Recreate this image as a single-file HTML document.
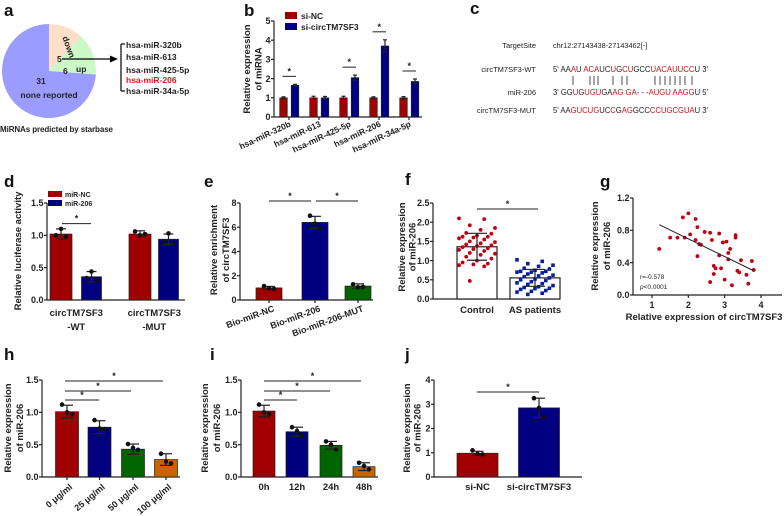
<!DOCTYPE html>
<html><head><meta charset="utf-8">
<style>
html,body{margin:0;padding:0;background:#fff;}
svg{display:block;font-family:"Liberation Sans",Arial,sans-serif;font-weight:bold;}
</style></head>
<body>
<svg id="fig" width="784" height="516" viewBox="0 0 784 516" xmlns="http://www.w3.org/2000/svg"></svg>
<script>
// ---------- data ----------
const pieLabels=['down','up','none reported'];
const pieCounts=[5,6,31];
const bCats=['hsa-miR-320b','hsa-miR-613','hsa-miR-425-5p','hsa-miR-206','hsa-miR-34a-5p'];
const bNC=[1,1,1,1,1];
const bSi=[1.65,1.0,2.05,3.7,1.85];
const bNCerr=[0.05,0.08,0.08,0.05,0.06];
const bSiErr=[0.05,0.07,0.13,0.32,0.13];
const bTicks=[0,1,2,3,4,5];
const dCats=['circTM7SF3\n-WT','circTM7SF3\n-MUT'];
const dNC=[1.02,1.02];
const dMiR=[0.36,0.94];
const dNCerr=[0.08,0.05];
const dMiRerr=[0.08,0.08];
const dNCpts=[[1.0,1.1,0.98],[1.06,1.0,1.02]];
const dMiRpts=[[0.34,0.44,0.3],[0.9,1.03,0.88]];
const dTicks=[0,0.5,1.0,1.5];
const eCats=['Bio-miR-NC','Bio-miR-206','Bio-miR-206-MUT'];
const eVals=[1.0,6.4,1.15];
const eErr=[0.12,0.5,0.18];
const ePts=[[1.15,0.95,0.92],[6.95,6.3,5.9],[1.3,1.05,1.08]];
const eTicks=[0,2,4,6,8];
const fCats=['Control','AS patients'];
const fMeans=[1.36,0.55];
const fSD=[0.35,0.22];
const fCtrl=[2.1,2.08,1.92,1.85,1.8,1.72,1.7,1.65,1.62,1.62,1.6,1.58,1.55,1.5,1.48,1.45,1.42,1.4,1.38,1.35,1.32,1.3,1.28,1.25,1.2,1.18,1.15,1.1,1.05,1.0,0.95,0.92,0.9,0.88,0.85,0.47];
const fAS=[1.02,0.98,0.92,0.88,0.85,0.8,0.78,0.75,0.72,0.72,0.7,0.7,0.68,0.65,0.62,0.6,0.58,0.55,0.52,0.5,0.48,0.45,0.42,0.4,0.38,0.35,0.32,0.3,0.28,0.27,0.25,0.22,0.2,0.18,0.15,0.12];
const fTicks=[0,0.5,1.0,1.5,2.0,2.5];
const gX=[1.2,1.5,1.7,1.85,1.9,2.0,2.05,2.2,2.2,2.25,2.3,2.35,2.25,2.45,2.6,2.65,2.7,2.75,2.85,2.85,2.9,2.95,3.0,3.05,3.1,3.15,3.2,3.3,3.3,3.35,3.4,3.45,3.6,3.65,3.75,3.8,2.6,2.7,3.1];
const gY=[0.57,0.71,0.71,0.96,0.71,1.01,0.75,0.68,0.94,0.84,0.63,0.62,0.48,0.78,0.77,0.68,0.36,0.33,0.49,0.76,0.33,0.65,0.19,0.66,0.44,0.57,0.12,0.74,0.71,0.3,0.28,0.43,0.25,0.14,0.42,0.31,0.16,0.26,0.52];
const gFit=[[1.2,0.87],[3.8,0.30]];
const gXTicks=[1,2,3,4];
const gYTicks=[0,0.4,0.8,1.2];
const hCats=['0 μg/ml','25 μg/ml','50 μg/ml','100 μg/ml'];
const hVals=[1.01,0.77,0.43,0.27];
const hErr=[0.1,0.1,0.08,0.09];
const hPts=[[1.12,1.0,0.97],[0.88,0.75,0.74],[0.51,0.45,0.42],[0.36,0.24,0.21]];
const iCats=['0h','12h','24h','48h'];
const iVals=[1.02,0.70,0.49,0.16];
const iErr=[0.09,0.07,0.06,0.06];
const iPts=[[1.12,1.0,0.97],[0.77,0.71,0.64],[0.55,0.5,0.43],[0.22,0.17,0.12]];
const jCats=['si-NC','si-circTM7SF3'];
const jVals=[0.98,2.85];
const jErr=[0.08,0.4];
const jPts=[[1.1,0.95,0.93],[3.25,2.85,2.45]];
const hiTicks=[0,0.5,1.0,1.5];
const jTicks=[0,1,2,3,4];

// ---------- helpers ----------
const NS='http://www.w3.org/2000/svg';
const svg=document.getElementById('fig');
const RED='#a00000',BLUE='#000080',GREEN='#006400',ORANGE='#c86400';
function mk(tag,attrs,name,parent){
  const el=document.createElementNS(NS,tag);
  for(const k in attrs) el.setAttribute(k,attrs[k]);
  
  
  (parent||svg).appendChild(el);
  return el;
}
function txt(x,y,s,name,opt){
  opt=opt||{};
  const t=mk('text',{x:x,y:y,'font-size':opt.size||8.5,'text-anchor':opt.anchor||'start',fill:opt.fill||'#222'},name);
  if(opt.rot!==undefined) t.setAttribute('transform','rotate('+opt.rot+' '+x+' '+y+')');
  if(opt.weight) t.setAttribute('font-weight',opt.weight);
  if(opt.len) t.setAttribute('textLength',opt.len);
  t.textContent=s;
  return t;
}
function line(x1,y1,x2,y2,name,w,c){return mk('line',{x1:x1,y1:y1,x2:x2,y2:y2,stroke:c||'#222','stroke-width':w||1.2},name);}
function linScale(d0,d1,r0,r1){return v=>r0+(v-d0)/(d1-d0)*(r1-r0);}
function yAxis(x,y0,yTop,ticks,name,fmt){
  const s=linScale(ticks[0],ticks[ticks.length-1],y0,yTop);
  line(x,y0,x,yTop,name+'-line');
  ticks.forEach(t=>{line(x-3,s(t),x,s(t),name+'-tick');txt(x-3.5,s(t)+3.2,fmt?fmt(t):String(t),name+'-label',{anchor:'end',size:9});});
  return s;
}
function errBar(cx,yv,ev,s,name,hw){
  line(cx,s(yv-ev),cx,s(yv+ev),name);
  line(cx-hw,s(yv+ev),cx+hw,s(yv+ev),name+'-cap');
  line(cx-hw,s(yv-ev),cx+hw,s(yv-ev),name+'-cap');
}
function dots(cx,pts,s,name){
  const off=[-5,0,5];
  pts.forEach((p,i)=>mk('circle',{cx:cx+off[i],cy:s(p),r:2.3,fill:'#111'},name));
}
function sig(x1,x2,y,name){line(x1,y,x2,y,name+'-line',1);txt((x1+x2)/2,y-2,'*',name+'-star',{anchor:'middle',size:9});}
function ytitle(x,y,lines,name,sp){
  lines.forEach((l,i)=>txt(x+i*(sp||11.5),y,l,name,{anchor:'middle',rot:-90,size:9.5}));
}
function panelLetter(x,y,s){txt(x,y,s,'panel-label-'+s,{size:17,fill:'#111'});}

// ---------- panel a : pie ----------
panelLetter(4,16,'a');
(function(){
  const cx=49,cy=71,r=47,total=pieCounts.reduce((a,b)=>a+b,0);
  const cols=['#fde0c8','#ccf8c8','#9a9cff'];
  let a0=-Math.PI/2;
  pieCounts.forEach((c,i)=>{
    const a1=a0+c/total*2*Math.PI;
    const large=(a1-a0)>Math.PI?1:0;
    const d='M'+cx+','+cy+' L'+(cx+r*Math.cos(a0))+','+(cy+r*Math.sin(a0))+' A'+r+','+r+' 0 '+large+' 1 '+(cx+r*Math.cos(a1))+','+(cy+r*Math.sin(a1))+' Z';
    mk('path',{d:d,fill:cols[i]},'pie-slice-'+pieLabels[i].replace(' ','-'));
    a0=a1;
  });
  txt(66,48,pieLabels[0],'pie-label-down',{rot:70,anchor:'middle',size:8.5});
  txt(57,62,String(pieCounts[0]),'pie-count-down',{size:8.5});
  txt(63,74,String(pieCounts[1]),'pie-count-up',{size:8.5});
  txt(76,72,pieLabels[1],'pie-label-up',{size:8.5});
  txt(41,84,String(pieCounts[2]),'pie-count-none',{anchor:'middle',size:8.5});
  txt(49,98,pieLabels[2],'pie-label-none',{anchor:'middle',size:8.5});
  txt(0,132,'MiRNAs predicted by starbase','pie-caption',{size:8,len:113});
  line(62,59,112,59,'arrow-line',1.3,'#000');
  mk('path',{d:'M118,59 L110,55.5 L110,62.5 Z',fill:'#000'},'arrow-head');
  line(121,44,121,91,'bracket',1.2,'#000');
  line(121,44,125,44,'bracket',1.2,'#000');
  line(121,91,125,91,'bracket',1.2,'#000');
  const lst=['hsa-miR-320b','hsa-miR-613','hsa-miR-425-5p','hsa-miR-206','hsa-miR-34a-5p'];
  const ly=[48,60,73,83,94];
  lst.forEach((s,i)=>txt(126,ly[i],s,'mirna-list-item',{size:8.5,fill:i==3?'#e8141c':'#222'}));
})();

// ---------- panel b ----------
panelLetter(244,16,'b');
(function(){
  const s=yAxis(274,117,21,bTicks,'b-y-axis');
  line(274,117,422,117,'b-x-axis');
  ytitle(250,69,['Relative expression','of miRNA'],'b-y-title');
  bCats.forEach((c,i)=>{
    const cr=283.5+30*i, cb=295+30*i;
    mk('rect',{x:cr-3.8,y:s(bNC[i]),width:7.6,height:117-s(bNC[i]),fill:RED,stroke:'#222','stroke-width':0.6},'b-bar-sinc');
    mk('rect',{x:cb-3.8,y:s(bSi[i]),width:7.6,height:117-s(bSi[i]),fill:BLUE,stroke:'#222','stroke-width':0.6},'b-bar-sicirc');
    errBar(cr,bNC[i],bNCerr[i],s,'b-err',2);
    errBar(cb,bSi[i],bSiErr[i],s,'b-err',2);
    line(cr+5.5,117,cr+5.5,120,'b-x-tick');
    txt(cr+8,126,c,'b-x-label',{anchor:'end',rot:-25,size:8.5});
    if(i!==1) sig(cr-1,cb+1,s(bSi[i]+bSiErr[i])-8,'b-sig');
  });
  mk('rect',{x:285,y:12,width:12,height:7,fill:RED},'b-legend-swatch-sinc');
  txt(301,19,'si-NC','b-legend-sinc',{size:8.5});
  mk('rect',{x:285,y:23,width:12,height:7,fill:BLUE},'b-legend-swatch-sicirc');
  txt(301,30,'si-circTM7SF3','b-legend-sicirc',{size:8.5});
})();

// ---------- panel c ----------
panelLetter(470,14,'c');
(function(){
  const R='#c8141c';
  txt(536,48,'TargetSite','c-label-targetsite',{anchor:'end',size:7.5,weight:'normal'});
  txt(553,48,'chr12:27143438-27143462[-]','c-target-coords',{size:7.3,weight:'normal'});
  txt(536,72,'circTM7SF3-WT','c-label-wt',{anchor:'end',size:7.5,weight:'normal'});
  txt(536,95,'miR-206','c-label-mir206',{anchor:'end',size:7.5,weight:'normal'});
  txt(536,113,'circTM7SF3-MUT','c-label-mut',{anchor:'end',size:7.5,weight:'normal'});
  function seq(y,parts,name){
    const t=mk('text',{x:553,y:y,'font-size':8.2,'font-weight':'normal',fill:'#222',textLength:155,lengthAdjust:'spacingAndGlyphs'},name);
    parts.forEach(p=>{const ts=document.createElementNS(NS,'tspan');ts.textContent=p[0];if(p[1])ts.setAttribute('fill',R);t.appendChild(ts);});
  }
  seq(72,[["5' AA",0],["A",1],["U ",0],["ACA",1],["UC",0],["U",1],["G",0],["CU",1],["GCC",0],["UACAUUCC",1],["U 3'",0]],'c-seq-wt');
  const px=[573,590,594,598,613,622,627,655,660,665,670,675,680,685,692];
  px.forEach(x=>line(x,76,x,85,'c-pair-line',0.8,'#222'));
  seq(95,[["3' GG",0],["U",1],["G",0],["UGU",1],["GA",0],["AG",1],[" ",0],["GA",1],["-  - -",0],["AUGU",1],[" ",0],["AAGG",1],["U 5'",0]],'c-seq-mir206');
  seq(113,[["5' AA",0],["GUCUG",1],["UC",0],["C",1],["G",0],["AG",1],["GCC",0],["CCUGCGUA",1],["U 3'",0]],'c-seq-mut');
})();

// ---------- panel d ----------
panelLetter(4,187,'d');
(function(){
  const s=yAxis(47,300,203,dTicks,'d-y-axis',t=>t.toFixed(1));
  line(47,300,185,300,'d-x-axis');
  ytitle(21,251,['Relative luciferase activity'],'d-y-title');
  const cr=[61,140],cb=[91.5,168.5];
  dCats.forEach((c,i)=>{
    mk('rect',{x:cr[i]-11,y:s(dNC[i]),width:22,height:300-s(dNC[i]),fill:RED,stroke:'#222','stroke-width':0.7},'d-bar-mirnc');
    mk('rect',{x:cb[i]-10,y:s(dMiR[i]),width:20,height:300-s(dMiR[i]),fill:BLUE,stroke:'#222','stroke-width':0.7},'d-bar-mir206');
    errBar(cr[i],dNC[i],dNCerr[i],s,'d-err',5);errBar(cb[i],dMiR[i],dMiRerr[i],s,'d-err',5);
    dots(cr[i],dNCpts[i],s,'d-point');dots(cb[i],dMiRpts[i],s,'d-point');
    const parts=c.split('\n'),mx=(cr[i]+cb[i])/2;
    txt(mx,316,parts[0],'d-x-label',{anchor:'middle',size:9.5});
    txt(mx,330,parts[1],'d-x-label',{anchor:'middle',size:9.5});
  });
  sig(62,91,s(1.12)-4,'d-sig');
  mk('rect',{x:48,y:191,width:14,height:6,fill:RED},'d-legend-swatch-mirnc');
  txt(65,197,'miR-NC','d-legend-mirnc',{size:7});
  mk('rect',{x:48,y:200,width:14,height:6,fill:BLUE},'d-legend-swatch-mir206');
  txt(65,206,'miR-206','d-legend-mir206',{size:7});
})();

// ---------- panel e ----------
panelLetter(204,187,'e');
(function(){
  const s=yAxis(240,300,203,eTicks,'e-y-axis');
  line(240,300,373,300,'e-x-axis');
  ytitle(217,250,['Relative enrichment','of circTM7SF3'],'e-y-title',12);
  const cx=[269,315,358],cols=[RED,BLUE,GREEN];
  eCats.forEach((c,i)=>{
    mk('rect',{x:cx[i]-13,y:s(eVals[i]),width:26,height:300-s(eVals[i]),fill:cols[i],stroke:'#222','stroke-width':0.7},'e-bar');
    errBar(cx[i],eVals[i],eErr[i],s,'e-err',6);
    dots(cx[i],ePts[i],s,'e-point');
    line(cx[i],300,cx[i],303,'e-x-tick');
    txt(cx[i]+6,311,c,'e-x-label',{anchor:'end',rot:-20,size:9});
  });
  sig(269,311,201,'e-sig');sig(316,358,201,'e-sig');
})();

// ---------- panel f ----------
panelLetter(405,185,'f');
(function(){
  const s=yAxis(433,299,203,fTicks,'f-y-axis',t=>t.toFixed(1));
  line(433,299,560,299,'f-x-axis');
  ytitle(405,247,['Relative expression','of miR-206'],'f-y-title',10.5);
  const cx=[477,535],w=[40,50],cols=['#c00010','#0a2096'],data=[fCtrl,fAS];
  fCats.forEach((c,i)=>{
    mk('rect',{x:cx[i]-w[i]/2,y:s(fMeans[i]),width:w[i],height:299-s(fMeans[i]),fill:'#fff',stroke:'#222','stroke-width':1.2},'f-bar');
    data[i].forEach((v,k)=>{
      const jx=(((k*7)%11)-5)*3.6;
      if(i==0) mk('circle',{cx:cx[i]+jx,cy:s(v),r:1.9,fill:cols[i]},'f-point-control');
      else mk('rect',{x:cx[i]+jx-1.8,y:s(v)-1.8,width:3.6,height:3.6,fill:cols[i]},'f-point-as');
    });
    errBar(cx[i],fMeans[i],fSD[i],s,'f-err',10);
    txt(cx[i],313,c,'f-x-label',{anchor:'middle',size:9.5});
  });
  sig(477,538,209,'f-sig');
})();

// ---------- panel g ----------
panelLetter(600,187,'g');
(function(){
  const sy=yAxis(633,295,198,gYTicks,'g-y-axis',t=>t.toFixed(1));
  const sx=linScale(1,4,652,761);
  line(633,295,782,295,'g-x-axis');
  gXTicks.forEach(t=>{line(sx(t),295,sx(t),298,'g-x-tick');txt(sx(t),308,String(t),'g-x-label',{anchor:'middle',size:9});});
  ytitle(598,246,['Relative expression','of miR-206'],'g-y-title',12);
  txt(704,320,'Relative expression of circTM7SF3','g-x-title',{anchor:'middle',size:9.5});
  gX.forEach((x,i)=>mk('circle',{cx:sx(x),cy:sy(gY[i]),r:1.9,fill:'#c00010'},'g-point'));
  line(sx(gFit[0][0]),sy(gFit[0][1]),sx(gFit[1][0]),sy(gFit[1][1]),'g-regression-line',1);
  txt(640,279,'r=-0.578','g-r-value',{size:6.5,weight:'normal'});
  const p=txt(640,289,'','g-p-value',{size:6.5,weight:'normal'});
  const ts=document.createElementNS(NS,'tspan');ts.setAttribute('font-style','italic');ts.textContent='p';p.appendChild(ts);
  p.appendChild(document.createTextNode('<0.0001'));
})();

// ---------- panels h, i, j ----------
function bars4(letter,lx,ax,cats,vals,errs,pts,centers,w,ticks,fmt,xEnd,rotLabels,sigs,cols,titleX,sp){
  panelLetter(lx,360,letter);
  const s=yAxis(ax,477,380,ticks,letter+'-y-axis',fmt);
  line(ax,477,xEnd,477,letter+'-x-axis');
  ytitle(titleX,428,['Relative expression','of miR-206'],letter+'-y-title',sp);
  cats.forEach((c,i)=>{
    mk('rect',{x:centers[i]-w/2,y:s(vals[i]),width:w,height:477-s(vals[i]),fill:cols[i],stroke:'#222','stroke-width':0.7},letter+'-bar');
    errBar(centers[i],vals[i],errs[i],s,letter+'-err',6);
    dots(centers[i],pts[i],s,letter+'-point');
    if(rotLabels){line(centers[i],477,centers[i],480,letter+'-x-tick');txt(centers[i]+6,488,c,letter+'-x-label',{anchor:'end',rot:-40,size:9});}
    else txt(centers[i],490,c,letter+'-x-label',{anchor:'middle',size:9.5});
  });
  sigs.forEach(sg=>sig(sg[0],sg[1],sg[2],letter+'-sig'));
}
bars4('h',4,42,hCats,hVals,hErr,hPts,[67,99.5,133,166],23,hiTicks,t=>t.toFixed(1),180,true,[[65,99,400],[65,131,391],[65,163,381]],[RED,BLUE,GREEN,ORANGE],11,12);
bars4('i',210,241,iCats,iVals,iErr,iPts,[264,297,331,364],22,hiTicks,t=>t.toFixed(1),378,false,[[264,297,400],[264,330,391],[264,361,381]],[RED,BLUE,GREEN,ORANGE],208,12);
bars4('j',405,434,jCats,jVals,jErr,jPts,[477.5,539],41,jTicks,null,582,false,[[477,539,392]],[RED,BLUE],410,10.5);
</script>
</body></html>
